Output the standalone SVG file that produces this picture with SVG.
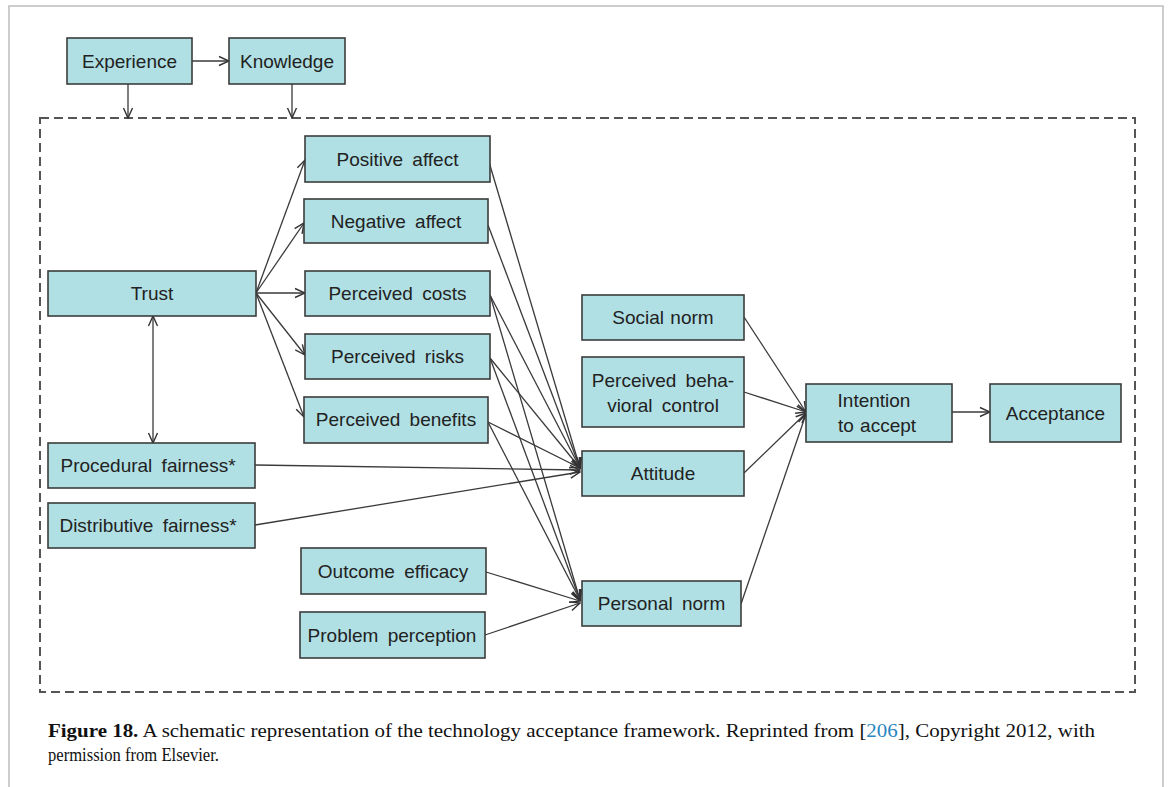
<svg xmlns="http://www.w3.org/2000/svg" width="1171" height="787" viewBox="0 0 1171 787">
<defs>
<marker id="arr" viewBox="0 0 12 12" refX="11" refY="6" markerWidth="12" markerHeight="12" markerUnits="userSpaceOnUse" orient="auto-start-reverse">
<path d="M1,1.5 L11,6 L1,10.5" fill="none" stroke="#333" stroke-width="1.4"/>
</marker>
<style>
.box{fill:#b0e0e4;stroke:#3c3c3c;stroke-width:1.6}
.lbl{font-family:"Liberation Sans",Arial,sans-serif;font-size:19px;fill:#222;text-anchor:middle;word-spacing:4px}
.ln{fill:none;stroke:#3a3a3a;stroke-width:1.3;marker-end:url(#arr)}
.cap{font-family:"Liberation Serif","Times New Roman",serif;font-size:19.5px;fill:#111}
</style>
</defs>
<rect width="1171" height="787" fill="#fff"/>
<path d="M9,787 V6 H1163 V787" fill="none" stroke="#bdbdbd" stroke-width="1.5"/>
<rect x="40" y="118" width="1095" height="574" fill="none" stroke="#555" stroke-width="2" stroke-dasharray="9,5"/>

<g id="connectors">
<line class="ln" x1="192" y1="61" x2="229" y2="61"/>
<line class="ln" x1="128" y1="84" x2="128" y2="118"/>
<line class="ln" x1="292" y1="84" x2="292" y2="118"/>
<line class="ln" x1="256" y1="293" x2="305" y2="160"/>
<line class="ln" x1="256" y1="293" x2="304" y2="223"/>
<line class="ln" x1="256" y1="293" x2="305" y2="293"/>
<line class="ln" x1="256" y1="293" x2="305" y2="355"/>
<line class="ln" x1="256" y1="293" x2="304" y2="417"/>
<line class="ln" x1="153" y1="316" x2="153" y2="443" marker-start="url(#arr)"/>
<line class="ln" x1="489" y1="162" x2="580" y2="468"/>
<line class="ln" x1="488" y1="225" x2="580" y2="468"/>
<line class="ln" x1="490" y1="295" x2="580" y2="468"/>
<line class="ln" x1="490" y1="295" x2="580" y2="600"/>
<line class="ln" x1="490" y1="358" x2="580" y2="468"/>
<line class="ln" x1="490" y1="358" x2="580" y2="600"/>
<line class="ln" x1="488" y1="422" x2="580" y2="468"/>
<line class="ln" x1="488" y1="422" x2="580" y2="600"/>
<line class="ln" x1="255" y1="465" x2="580" y2="470"/>
<line class="ln" x1="255" y1="525" x2="580" y2="472"/>
<line class="ln" x1="486" y1="572" x2="580" y2="601"/>
<line class="ln" x1="485" y1="635" x2="580" y2="603"/>
<line class="ln" x1="744" y1="317" x2="806" y2="412"/>
<line class="ln" x1="744" y1="392" x2="806" y2="412"/>
<line class="ln" x1="744" y1="473" x2="806" y2="413"/>
<line class="ln" x1="741" y1="604" x2="806" y2="414"/>
<line class="ln" x1="952" y1="412" x2="990" y2="412"/>
</g>

<g id="experience"><rect class="box" x="67" y="38" width="125" height="46"/><text class="lbl" x="129.5" y="68">Experience</text></g>
<g id="knowledge"><rect class="box" x="229" y="38" width="116" height="46"/><text class="lbl" x="287" y="68">Knowledge</text></g>
<g id="trust"><rect class="box" x="48" y="271" width="208" height="45"/><text class="lbl" x="152" y="300">Trust</text></g>
<g id="positive-affect"><rect class="box" x="305" y="136" width="185" height="46"/><text class="lbl" x="397.5" y="166">Positive affect</text></g>
<g id="negative-affect"><rect class="box" x="304" y="199" width="184" height="44"/><text class="lbl" x="396" y="228">Negative affect</text></g>
<g id="perceived-costs"><rect class="box" x="305" y="271" width="185" height="45"/><text class="lbl" x="397.5" y="300">Perceived costs</text></g>
<g id="perceived-risks"><rect class="box" x="305" y="334" width="185" height="45"/><text class="lbl" x="397.5" y="363">Perceived risks</text></g>
<g id="perceived-benefits"><rect class="box" x="304" y="397" width="184" height="46"/><text class="lbl" x="396" y="426">Perceived benefits</text></g>
<g id="procedural-fairness"><rect class="box" x="48" y="443" width="207" height="45"/><text class="lbl" x="148" y="472">Procedural fairness*</text></g>
<g id="distributive-fairness"><rect class="box" x="48" y="503" width="207" height="45"/><text class="lbl" x="148" y="532">Distributive fairness*</text></g>
<g id="outcome-efficacy"><rect class="box" x="301" y="548" width="185" height="46"/><text class="lbl" x="393" y="578">Outcome efficacy</text></g>
<g id="problem-perception"><rect class="box" x="300" y="612" width="185" height="46"/><text class="lbl" x="392" y="642">Problem perception</text></g>
<g id="social-norm"><rect class="box" x="582" y="295" width="162" height="45"/><text class="lbl" x="663" y="324" style="word-spacing:1px">Social norm</text></g>
<g id="perceived-behavioral-control"><rect class="box" x="582" y="357" width="162" height="70"/><text class="lbl" x="663" y="387">Perceived beha-</text><text class="lbl" x="663" y="412">vioral control</text></g>
<g id="attitude"><rect class="box" x="582" y="451" width="162" height="45"/><text class="lbl" x="663" y="480">Attitude</text></g>
<g id="personal-norm"><rect class="box" x="582" y="581" width="159" height="45"/><text class="lbl" x="661.5" y="610">Personal norm</text></g>
<g id="intention"><rect class="box" x="806" y="384" width="146" height="58"/><text class="lbl" x="874" y="407" style="word-spacing:1px">Intention</text><text class="lbl" x="877" y="432" style="word-spacing:1px">to accept</text></g>
<g id="acceptance"><rect class="box" x="990" y="384" width="131" height="58"/><text class="lbl" x="1055.5" y="420">Acceptance</text></g>

<g id="caption">
<text class="cap" x="48" y="737" textLength="1047" lengthAdjust="spacingAndGlyphs"><tspan font-weight="bold">Figure 18.</tspan> A schematic representation of the technology acceptance framework. Reprinted from [<tspan fill="#2a86c0">206</tspan>], Copyright 2012, with</text>
<text class="cap" x="48" y="761" textLength="171" lengthAdjust="spacingAndGlyphs">permission from Elsevier.</text>
</g>
</svg>
